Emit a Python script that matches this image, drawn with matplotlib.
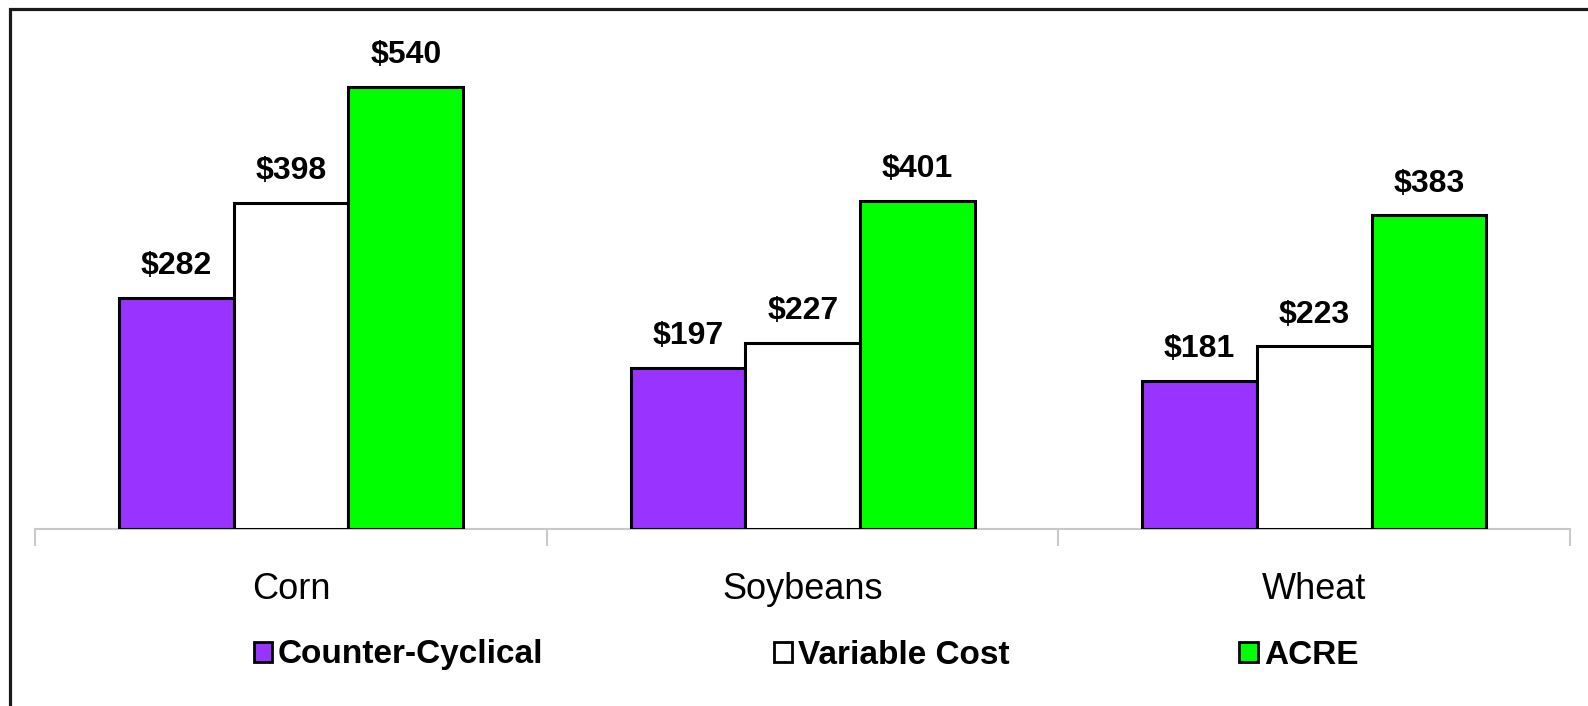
import matplotlib as mpl

mpl.use("Agg")
import matplotlib.pyplot as plt
import numpy as np
from matplotlib.patches import Rectangle

plt.rcParams["font.family"] = ["Liberation Sans", "DejaVu Sans"]

# data
crops = ["Corn", "Soybeans", "Wheat"]
series = ["Counter-Cyclical", "Variable Cost", "ACRE"]
counter_cyclical = [282, 197, 181]
variable_cost = [398, 227, 223]
acre = [540, 401, 383]
colors = ["#9933FF", "#FFFFFF", "#00FF00"]

W, H = 1588, 706
fig = plt.figure(figsize=(W / 100, H / 100), dpi=100)
ax = fig.add_axes([35.4 / W, (H - 529) / H, (1570 - 35.4) / W, (529 - 37.5) / H])

x = np.arange(len(crops))
bw = 0.224
for k, (vals, col) in enumerate(zip([counter_cyclical, variable_cost, acre], colors)):
    pos = x + (k - 1) * bw
    ax.bar(pos, vals, width=bw, color=col, edgecolor="black", linewidth=2.2,
           label=series[k], zorder=3)
    for p, v in zip(pos, vals):
        ax.annotate(f"${v}", (p, v), xytext=(0, 12), textcoords="offset points",
                    ha="center", va="bottom", fontsize=23, fontweight="bold")

ax.set_xlim(-0.5, len(crops) - 0.5)
ax.set_ylim(0, 600)
ax.set_yticks([])
for s in ["top", "right", "left"]:
    ax.spines[s].set_visible(False)
ax.spines["bottom"].set_color("#c8c8c8")
ax.spines["bottom"].set_linewidth(1.5)
ax.set_xticks(x)
ax.set_xticklabels(crops, fontsize=26)
ax.tick_params(axis="x", which="major", length=0, pad=31)
ax.set_xticks(np.arange(-0.5, len(crops)), minor=True)
ax.tick_params(axis="x", which="minor", length=12, width=1.5, color="#c8c8c8")

fig.legend(loc="center", bbox_to_anchor=(806 / W, 1 - 655 / H), ncol=3,
           frameon=False, prop={"size": 24, "weight": "bold"},
           handlelength=0.55, handleheight=0.55, handletextpad=0.18,
           columnspacing=6.9)
for h in fig.legends[0].legend_handles:
    h.set_linewidth(2)

fig.patches.append(Rectangle((10 / W, -0.1), 1.2, 1.1 - 9 / H, transform=fig.transFigure,
                             fill=False, edgecolor="#1a1a1a", linewidth=2.3))

fig.savefig("out.png", dpi=100)
